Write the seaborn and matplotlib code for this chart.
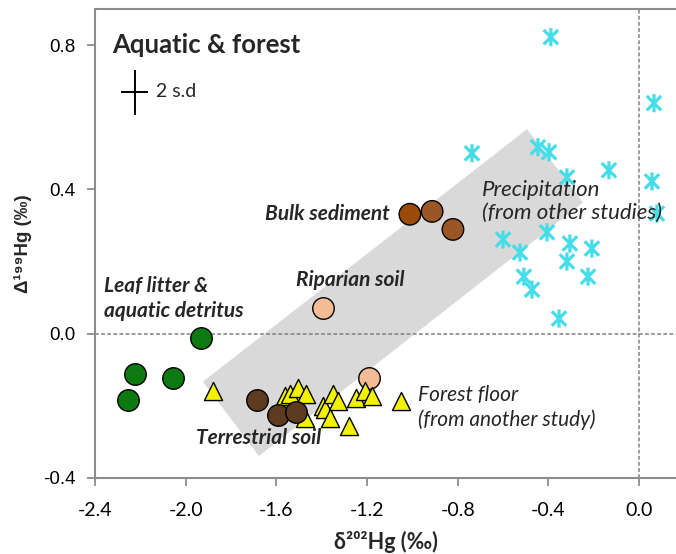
import numpy as np
import matplotlib
matplotlib.use("Agg")
import matplotlib.pyplot as plt
from matplotlib.path import Path
from matplotlib.patches import Polygon
import seaborn as sns

# ---------------- data ----------------
leaf_x = [-1.932, -2.224, -2.056, -2.254]
leaf_y = [-0.011, -0.111, -0.122, -0.183]

bulk_x = [-1.011, -0.913, -0.821]
bulk_y = [0.331, 0.339, 0.289]
bulk_colors = ["#9C4A08", "#9A5626", "#9A5626"]

riparian_x = [-1.394, -1.191]
riparian_y = [0.072, -0.122]

terr_x = [-1.686, -1.593, -1.513]
terr_y = [-0.183, -0.225, -0.217]

forest_x = [-1.881, -1.562, -1.540, -1.505, -1.469, -1.474, -1.394, -1.385,
            -1.350, -1.328, -1.363, -1.249, -1.209, -1.178, -1.280, -1.050]
forest_y = [-0.158, -0.172, -0.167, -0.150, -0.167, -0.233, -0.200, -0.208,
            -0.167, -0.186, -0.233, -0.178, -0.158, -0.172, -0.256, -0.186]

precip_x = [-0.389, 0.066, -0.737, -0.446, -0.397, -0.318, -0.133, 0.057, 0.079,
            -0.600, -0.525, -0.406, -0.305, -0.208, -0.318, -0.508, -0.472, -0.225, -0.353]
precip_y = [0.822, 0.639, 0.500, 0.517, 0.503, 0.433, 0.453, 0.422, 0.333,
            0.261, 0.225, 0.281, 0.250, 0.236, 0.200, 0.158, 0.122, 0.158, 0.042]

band_x = [-1.924, -1.677, -0.247, -0.494]
band_y = [-0.133, -0.339, 0.364, 0.567]

sd_x, sd_y = [-2.225], [0.669]
sd_xerr, sd_yerr = [0.06], [0.062]

x_ticks = [-2.4, -2.0, -1.6, -1.2, -0.8, -0.4, 0.0]
y_ticks = [-0.4, 0.0, 0.4, 0.8]

# ---------------- figure ----------------
sns.set_style("ticks")
plt.rcParams["font.family"] = ["Lato", "DejaVu Sans"]

fig = plt.figure(figsize=(6.76, 5.54), dpi=100)
ax = fig.add_axes([95 / 676, 76 / 554, 581 / 676, 469 / 554])

ax.add_patch(Polygon(np.column_stack([band_x, band_y]), closed=True,
                     facecolor="#D9D9D9", edgecolor="none", zorder=0))

ax.axhline(0, color="#808080", lw=1.1, ls=(0, (2.5, 1.5)), zorder=1)
ax.axvline(0, color="#808080", lw=1.1, ls=(0, (2.5, 1.5)), zorder=1)

# custom asterisk marker (vertical bar + X)
d = 0.8
star = Path([(0, -1), (0, 1), (-d, -d), (d, d), (-d, d), (d, -d)],
            [Path.MOVETO, Path.LINETO, Path.MOVETO, Path.LINETO, Path.MOVETO, Path.LINETO])

sns.scatterplot(x=precip_x, y=precip_y, ax=ax, marker=star, s=170,
                facecolor="none", edgecolor="#45DDE8", linewidth=2.3, zorder=3)

sns.scatterplot(x=leaf_x, y=leaf_y, ax=ax, marker="o", s=240, color="#0C7A10",
                edgecolor="black", linewidth=1.0, zorder=4)
sns.scatterplot(x=bulk_x, y=bulk_y, ax=ax, marker="o", s=240, hue=list(range(3)),
                palette=bulk_colors, legend=False,
                edgecolor="black", linewidth=1.0, zorder=4)
sns.scatterplot(x=riparian_x, y=riparian_y, ax=ax, marker="o", s=240, color="#F4BC94",
                edgecolor="black", linewidth=1.0, zorder=4)
sns.scatterplot(x=forest_x, y=forest_y, ax=ax, marker="^", s=170, color="#F2F200",
                edgecolor="black", linewidth=1.0, zorder=5)
sns.scatterplot(x=terr_x, y=terr_y, ax=ax, marker="o", s=240, color="#5E3B1F",
                edgecolor="black", linewidth=1.0, zorder=6)

ax.errorbar(sd_x, sd_y, xerr=sd_xerr, yerr=sd_yerr, fmt="none", ecolor="black",
            elinewidth=1.4, capsize=0, zorder=6)

# ---------------- texts ----------------
ax.text(-2.325, 0.80, "Aquatic & forest", fontsize=18.5, fontweight="bold",
        ha="left", va="center")
ax.text(-2.13, 0.672, "2 s.d", fontsize=14, ha="left", va="center")

bi = dict(fontsize=15, fontweight="bold", fontstyle="italic", va="center")
it = dict(fontstyle="italic", va="center")
ax.text(-1.10, 0.333, "Bulk sediment", ha="right", **bi)
ax.text(-1.275, 0.150, "Riparian soil", ha="center", **bi)
ax.text(-2.36, 0.097, "Leaf litter &\naquatic detritus", ha="left",
        linespacing=1.3, **bi)
ax.text(-1.955, -0.289, "Terrestrial soil", ha="left", **bi)
ax.text(-0.975, -0.204, "Forest floor\n(from another study)", ha="left",
        fontsize=15, linespacing=1.3, **it)
ax.text(-0.693, 0.367, "Precipitation\n(from other studies)", ha="left",
        fontsize=16, linespacing=1.2, **it)

# ---------------- axes ----------------
ax.set_xlim(-2.4, 0.163)
ax.set_ylim(-0.4, 0.9)
ax.set_xticks(x_ticks)
ax.set_yticks(y_ticks)
ax.set_xticklabels([f"{v:.1f}" for v in x_ticks], fontsize=14)
ax.set_yticklabels([f"{v:.1f}" for v in y_ticks], fontsize=13.5,
                   family=["Liberation Sans", "DejaVu Sans"])

ax.set_xlabel("δ²⁰²Hg (‰)", fontsize=15.5, fontweight="bold", labelpad=9)
ax.set_ylabel("Δ¹⁹⁹Hg (‰)", fontsize=13.5, fontweight="bold",
              family=["Liberation Sans", "DejaVu Sans"], labelpad=8)

for s in ["left", "bottom", "top"]:
    ax.spines[s].set_color("#8C8C8C")
    ax.spines[s].set_linewidth(1.5)
ax.spines["right"].set_visible(False)
ax.tick_params(axis="both", direction="out", length=6, width=1.3, color="#8C8C8C",
               labelcolor="black")
ax.tick_params(axis="x", pad=11)
ax.tick_params(axis="y", pad=8)

fig.savefig("out.png", dpi=100)
